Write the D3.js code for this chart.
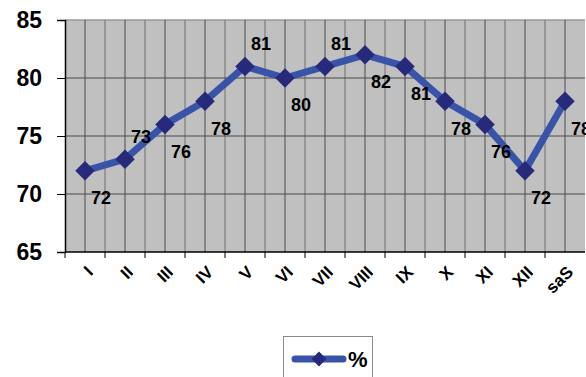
<!DOCTYPE html>
<html>
<head>
<meta charset="utf-8">
<script src="https://cdn.jsdelivr.net/npm/d3@7"></script>
<style>
  html, body { margin: 0; padding: 0; background: #ffffff; }
  svg { display: block; font-family: Arial, "Liberation Sans", sans-serif; }
</style>
</head>
<body>
<svg id="chart" width="586" height="377"></svg>
<script>
// Monthly values plus the annual figure ("saS")
const categories = ["I", "II", "III", "IV", "V", "VI", "VII", "VIII", "IX", "X", "XI", "XII", "saS"];
const values = [72, 73, 76, 78, 81, 80, 81, 82, 81, 78, 76, 72, 78];
const yTicks = [65, 70, 75, 80, 85];
const seriesName = "%";

const svg = d3.select("#chart");
const plot = { left: 65, top: 20, right: 585, bottom: 252 };

const x = d3.scaleBand().domain(categories).range([plot.left, plot.right]).padding(0);
const y = d3.scaleLinear().domain([65, 85]).range([plot.bottom, plot.top]);
const cx = d => x(d) + x.bandwidth() / 2;

// plot area
svg.append("rect")
  .attr("x", plot.left).attr("y", plot.top)
  .attr("width", plot.right - plot.left).attr("height", plot.bottom - plot.top)
  .attr("fill", "#c0c0c0");
svg.append("line")
  .attr("x1", plot.left).attr("x2", plot.right)
  .attr("y1", plot.top).attr("y2", plot.top)
  .attr("stroke", "#9a9a9a").attr("stroke-width", 1.5);

// vertical gridlines at band edges and band centres
const grid = svg.append("g");
categories.forEach((c, i) => {
  if (i > 0) {
    grid.append("line")
      .attr("x1", x(c)).attr("x2", x(c))
      .attr("y1", plot.top).attr("y2", plot.bottom)
      .attr("stroke", "#6e6e6e").attr("stroke-width", 1);
  }
  grid.append("line")
    .attr("x1", cx(c)).attr("x2", cx(c))
    .attr("y1", plot.top).attr("y2", plot.bottom)
    .attr("stroke", "#4a4a4a").attr("stroke-width", 1);
});
// horizontal gridlines
yTicks.slice(1, -1).forEach(t => {
  grid.append("line")
    .attr("x1", plot.left).attr("x2", plot.right)
    .attr("y1", y(t)).attr("y2", y(t))
    .attr("stroke", "#4a4a4a").attr("stroke-width", 1);
});

// y axis
const yAxis = svg.append("g")
  .attr("transform", `translate(${plot.left},0)`)
  .call(d3.axisLeft(y).tickValues(yTicks).tickSize(8).tickPadding(15));
yAxis.select(".domain").attr("stroke", "#000").attr("stroke-width", 1.5);
yAxis.selectAll(".tick line").attr("stroke", "#000");
yAxis.selectAll(".tick text")
  .attr("font-size", 23).attr("font-weight", "bold").attr("fill", "#000")
  .attr("font-family", "Arial, 'Liberation Sans', sans-serif");

// x axis: ticks at band boundaries
const xAxisG = svg.append("g");
xAxisG.append("line")
  .attr("x1", plot.left).attr("x2", plot.right)
  .attr("y1", plot.bottom).attr("y2", plot.bottom)
  .attr("stroke", "#000").attr("stroke-width", 1.5);
categories.forEach(c => {
  xAxisG.append("line")
    .attr("x1", x(c)).attr("x2", x(c))
    .attr("y1", plot.bottom).attr("y2", plot.bottom + 6)
    .attr("stroke", "#000");
});
xAxisG.selectAll("text.cat")
  .data(categories)
  .join("text")
  .attr("class", "cat")
  .attr("transform", d => `translate(${cx(d) + 5},${plot.bottom + 17}) rotate(-45)`)
  .attr("text-anchor", "end")
  .attr("dy", "0.35em")
  .attr("font-size", 17).attr("font-weight", "bold").attr("fill", "#000")
  .text(d => d);

// series line
const pts = categories.map((c, i) => ({ c, v: values[i] }));
svg.append("path")
  .datum(pts)
  .attr("d", d3.line().x(d => cx(d.c)).y(d => y(d.v)))
  .attr("fill", "none")
  .attr("stroke", "#3853a8")
  .attr("stroke-width", 7)
  .attr("stroke-linejoin", "round");

// diamond markers
svg.selectAll("path.mk")
  .data(pts)
  .join("path")
  .attr("class", "mk")
  .attr("transform", d => `translate(${cx(d.c)},${y(d.v)}) rotate(45)`)
  .attr("d", d3.symbol().type(d3.symbolSquare).size(190))
  .attr("fill", "#27297a");

// value labels (most sit below-right, a few above-right)
const above = new Set(["II", "V", "VII"]);
svg.selectAll("text.val")
  .data(pts)
  .join("text")
  .attr("class", "val")
  .attr("x", d => cx(d.c) + 16)
  .attr("y", d => y(d.v) + (above.has(d.c) ? -23 : 27))
  .attr("text-anchor", "middle")
  .attr("dy", "0.35em")
  .attr("font-size", 18).attr("font-weight", "bold").attr("fill", "#000")
  .text(d => d.v);

// legend
const lg = svg.append("g");
lg.append("rect")
  .attr("x", 283.5).attr("y", 336.5).attr("width", 89).attr("height", 60)
  .attr("fill", "#fff").attr("stroke", "#8a8a8a").attr("stroke-width", 1);
lg.append("line")
  .attr("x1", 295).attr("x2", 343).attr("y1", 359).attr("y2", 359)
  .attr("stroke", "#3853a8").attr("stroke-width", 7).attr("stroke-linecap", "round");
lg.append("path")
  .attr("transform", "translate(319,359) rotate(45)")
  .attr("d", d3.symbol().type(d3.symbolSquare).size(110))
  .attr("fill", "#27297a");
lg.append("text")
  .attr("x", 348).attr("y", 359).attr("dy", "0.35em")
  .attr("font-size", 22).attr("font-weight", "bold").attr("fill", "#000")
  .text(seriesName);
</script>
</body>
</html>
